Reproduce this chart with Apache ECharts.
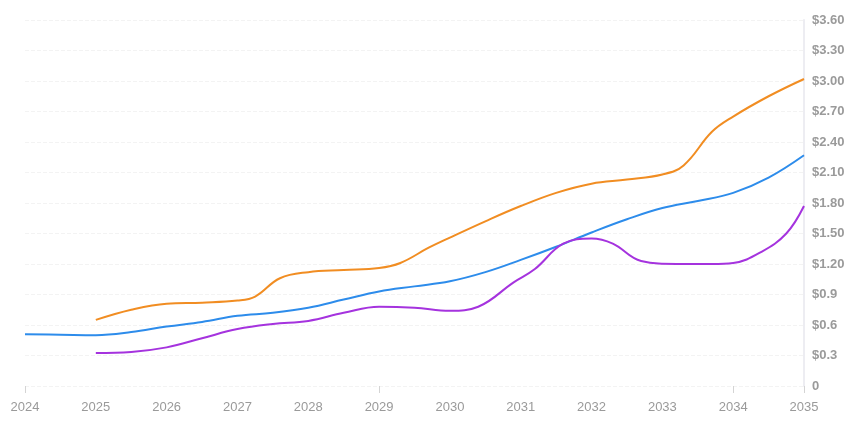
<!DOCTYPE html>
<html>
<head>
<meta charset="utf-8">
<script src="https://cdn.jsdelivr.net/npm/echarts@6/dist/echarts.min.js"></script>
<style>
html,body{margin:0;padding:0;background:#fff;}
#c{width:863px;height:428px;}
</style>
</head>
<body>
<div id="c"></div>
<script>
// x-axis year tick labels
const yearLabels = [2024,2025,2026,2027,2028,2029,2030,2031,2032,2033,2034,2035];
// y-axis tick labels (value -> text)
const yTickValues = [0,0.3,0.6,0.9,1.2,1.5,1.8,2.1,2.4,2.7,3.0,3.3,3.6];
const yTickLabels = ["0","$0.3","$0.6","$0.9","$1.20","$1.50","$1.80","$2.10","$2.40","$2.70","$3.00","$3.30","$3.60"];

// series: [year, value]
const blueSeries = [
  [2024,0.51],[2024.5,0.505],[2025,0.50],[2025.5,0.53],[2026,0.585],[2026.5,0.63],
  [2027,0.69],[2027.5,0.72],[2028,0.77],[2028.5,0.85],[2029,0.93],[2029.5,0.98],
  [2030,1.03],[2030.5,1.12],[2031,1.24],[2031.5,1.37],[2032,1.51],[2032.5,1.64],
  [2033,1.75],[2033.5,1.82],[2034,1.90],[2034.5,2.05],[2035,2.27]
];
const orangeSeries = [
  [2025,0.65],[2025.5,0.75],[2026,0.81],[2026.5,0.82],[2027,0.84],[2027.25,0.88],
  [2027.6,1.06],[2028,1.12],[2028.5,1.14],[2029,1.16],[2029.3,1.21],[2029.7,1.36],
  [2030,1.46],[2030.5,1.62],[2031,1.77],[2031.5,1.90],[2032,1.99],[2032.5,2.03],
  [2033,2.08],[2033.3,2.17],[2033.7,2.50],[2034,2.65],[2034.5,2.85],[2035,3.02]
];
const purpleSeries = [
  [2025,0.325],[2025.5,0.335],[2026,0.38],[2026.5,0.47],[2027,0.56],[2027.5,0.61],
  [2028,0.64],[2028.5,0.72],[2029,0.78],[2029.5,0.77],[2030,0.74],[2030.4,0.78],
  [2030.9,1.02],[2031.2,1.15],[2031.6,1.40],[2032,1.45],[2032.3,1.40],[2032.7,1.23],
  [2033.2,1.20],[2033.7,1.20],[2034,1.21],[2034.4,1.32],[2034.75,1.50],[2035,1.77]
];

const chart = echarts.init(document.getElementById('c'), null, {renderer:'canvas'});
const fontFamily = '"Liberation Sans", Arial, sans-serif';
chart.setOption({
  animation:false,
  backgroundColor:'#fff',
  grid:{left:25,right:59,top:20,bottom:42,containLabel:false},
  xAxis:[{
    type:'value',
    min:yearLabels[0], max:yearLabels[yearLabels.length-1], interval:1,
    position:'bottom',
    axisLine:{show:false},
    axisTick:{show:false},
    splitLine:{show:false},
    axisLabel:{
      color:'#9a9a9a', fontSize:13, fontFamily:fontFamily, margin:15,
      formatter:function(v){ const i = yearLabels.indexOf(Math.round(v)); return i>=0 ? String(yearLabels[i]) : ''; }
    }
  },{
    type:'value',
    min:2024, max:2035, interval:5,
    position:'bottom',
    axisLine:{show:false},
    axisTick:{show:true, length:7, lineStyle:{color:'#d4d4d4', width:1}},
    axisLabel:{show:false},
    splitLine:{show:false}
  }],
  yAxis:{
    type:'value',
    position:'right',
    min:0, max:3.6, interval:0.3,
    axisLine:{show:true, lineStyle:{color:'#ededf2', width:2}},
    axisTick:{show:false},
    splitLine:{show:true, lineStyle:{color:'#f3f3f3', type:'dashed', width:1}},
    axisLabel:{
      color:'#9a9a9a', fontSize:13, fontWeight:'bold', fontFamily:fontFamily, margin:8,
      formatter:function(v){
        let best=0, bd=1e9;
        yTickValues.forEach(function(t,i){ const d=Math.abs(t-v); if(d<bd){bd=d;best=i;} });
        return yTickLabels[best];
      }
    }
  },
  series:[
    {type:'line', name:'blue', data:blueSeries, smooth:0.4, showSymbol:false,
     lineStyle:{color:'#2d8ceb', width:2}, itemStyle:{color:'#2d8ceb'}},
    {type:'line', name:'orange', data:orangeSeries, smooth:0.4, showSymbol:false,
     lineStyle:{color:'#f18d22', width:2}, itemStyle:{color:'#f18d22'}},
    {type:'line', name:'purple', data:purpleSeries, smooth:0.4, showSymbol:false,
     lineStyle:{color:'#a533de', width:2}, itemStyle:{color:'#a533de'}}
  ]
});
</script>
</body>
</html>
